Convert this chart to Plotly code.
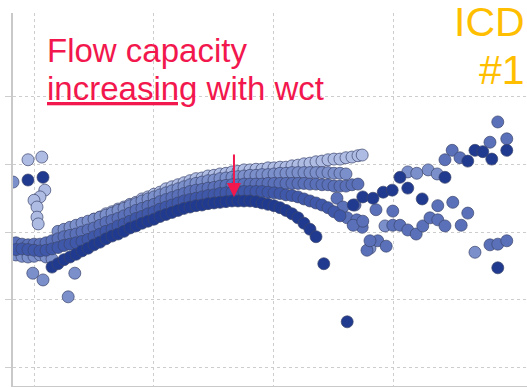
import plotly.graph_objects as go

# ---- data (x: water cut %, y: flow capacity, arbitrary units) ----
dark_x = [23, 24, 25, 26, 27, 28, 29, 30, 31, 32, 33, 34, 35, 36, 37, 38, 39, 40, 41, 42, 43, 44,
          45, 46, 47, 48, 49, 50, 51, 52, 53, 54, 55, 56, 57, 58, 59, 60, 61, 62, 63, 64, 65, 66,
          67, 68.3, 72.2,
          19, 21.5,
          73.2, 74.8, 76.5, 78.2, 79.7, 81.0, 82.3, 84.7, 88.5, 92.3, 93.5, 94.8, 96.3, 98.8, 97.3]
dark_y = [14.8, 15.3, 15.9, 16.3, 16.7, 17.2, 17.6, 18.1, 18.5, 19.0, 19.4, 19.7, 20.1, 20.6, 20.9,
          21.3, 21.6, 21.9, 22.3, 22.6, 22.9, 23.2, 23.5, 23.7, 23.9, 24.0, 24.2, 24.3, 24.4, 24.5,
          24.6, 24.6, 24.6, 24.6, 24.5, 24.3, 24.1, 23.9, 23.6, 23.2, 22.7, 22.1, 21.3, 20.4,
          19.3, 15.3, 6.7,
          27.7, 28.1,
          24.0, 25.2, 25.0, 25.9, 26.2, 28.1, 26.5, 24.9, 28.1, 30.5, 32.1, 31.9, 30.8, 32.1, 14.7]

s2_x = [17, 18, 19, 20, 21, 22, 23, 24, 25, 26, 27, 28, 29, 30, 31, 32, 33, 34, 35, 36, 37, 38,
        39, 40, 41, 42, 43, 44, 45, 46, 47, 48, 49, 50, 51, 52, 53, 54, 55, 56, 57, 58, 59, 60,
        61, 62, 63, 64, 65, 66, 67, 68, 69, 70, 71]
s2_y = [17.4, 17.5, 17.4, 17.3, 17.2, 17.3, 17.5, 17.7, 18.0, 18.2, 18.4, 18.6, 18.9, 19.3, 19.7,
        20.1, 20.4, 20.9, 21.2, 21.6, 22.0, 22.3, 22.7, 23.0, 23.4, 23.7, 24.0, 24.3, 24.6, 24.8,
        25.0, 25.2, 25.4, 25.5, 25.7, 25.8, 25.9, 26.0, 26.0, 26.0, 26.0, 26.0, 25.9, 25.8, 25.7,
        25.5, 25.4, 25.2, 24.9, 24.6, 24.3, 24.0, 23.6, 23.0, 22.4]

s3_x = [16, 17, 18, 19, 20, 21, 22, 23, 24, 25, 26, 27, 28, 29, 30, 31, 32, 33, 34, 35, 36, 37,
        38, 39, 40, 41, 42, 43, 44, 45, 46, 47, 48, 49, 50, 51, 52, 53, 54, 55, 56, 57, 58, 59,
        60, 61, 62, 63, 64, 65, 66, 67, 68, 69, 70, 71, 72, 73, 74,
        70.5, 71.5, 72.2, 73.8, 74.7, 75.5, 73.2, 74.8, 73.5, 77.0, 79.8, 77.3, 78.7, 76.0,
        79.8, 81.0, 82.3, 83.7, 84.8, 86.0, 87.3, 87.3, 88.5, 89.8, 91.2, 92.3,
        96.0, 97.3, 98.8, 89.7, 88.5, 91.0, 96.0, 97.3, 98.8]
s3_y = [18.4, 18.4, 18.2, 18.1, 18.2, 18.2, 18.4, 18.7, 19.0, 19.3, 19.5, 19.7, 20.0, 20.3, 20.6,
        21.0, 21.4, 21.7, 22.0, 22.4, 22.8, 23.2, 23.5, 23.8, 24.1, 24.5, 24.8, 25.1, 25.4, 25.7,
        26.0, 26.2, 26.3, 26.5, 26.6, 26.8, 26.9, 27.0, 27.0, 27.1, 27.1, 27.1, 27.1, 27.2,
        27.2, 27.2, 27.2, 27.2, 27.2, 27.2, 27.1, 27.1, 27.0, 27.0, 26.8, 26.8, 26.8, 27.0, 27.1,
        25.0, 23.7, 22.1, 21.8, 20.7, 17.3, 21.0, 21.6, 24.0, 23.3, 23.1, 18.7, 17.9, 18.7,
        21.0, 21.0, 20.3, 19.7, 20.9, 22.1, 23.9, 21.8, 20.9, 24.4, 21.0, 22.8,
        18.1, 18.2, 18.7, 32.1, 30.7, 31.0, 33.3, 36.3, 33.8]

s4_x = [17, 18, 19, 20, 21, 22, 23,
        24, 25, 26, 27, 28, 29, 30, 31, 32, 33, 34, 35, 36, 37, 38, 39, 40, 41, 42, 43, 44, 45,
        46, 47, 48, 49, 50, 51, 52, 53, 54, 55, 56, 57, 58, 59, 60, 61, 62, 63, 64, 65, 66, 67,
        68, 69, 70, 71, 72,
        16.5, 19.8, 21.5, 26.8, 25.7,
        82.3, 83.8, 85.7, 87.2, 93.5, 76.0, 78.5]
s4_y = [16.6, 16.4, 16.3, 16.4, 16.6, 16.3, 16.0,
        20.1, 20.4, 20.7, 21.0, 21.3, 21.6, 21.9, 22.2, 22.5, 22.8, 23.2, 23.5, 23.9, 24.2, 24.6,
        24.9, 25.2, 25.5, 25.8, 26.1, 26.4, 26.7, 27.0, 27.2, 27.4, 27.6, 27.7, 27.9, 28.0, 28.1,
        28.2, 28.3, 28.4, 28.4, 28.5, 28.5, 28.6, 28.7, 28.7, 28.8, 28.8, 28.8, 28.8, 28.8,
        28.8, 28.8, 28.7, 28.7, 28.6,
        27.4, 13.9, 12.9, 13.9, 10.4,
        28.9, 28.7, 29.2, 28.6, 17.0, 17.6, 20.9]

s5_x = [30, 31, 32, 33, 34, 35, 36, 37, 38, 39, 40, 41, 42, 43, 44, 45, 46, 47, 48, 49, 50, 51,
        52, 53, 54, 55, 56, 57, 58, 59, 60, 61, 62, 63, 64, 65, 66, 67, 68, 69, 70, 71, 72, 73,
        74, 74.7,
        19, 21.3, 21.8, 21.0, 20.0, 20.5, 20.5, 20.7]
s5_y = [21.9, 22.2, 22.7, 23.0, 23.4, 23.7, 24.1, 24.4, 24.9, 25.2, 25.6, 25.9, 26.4, 26.7, 27.0,
        27.3, 27.6, 27.9, 28.0, 28.3, 28.4, 28.6, 28.7, 28.9, 29.0, 29.2, 29.2, 29.3, 29.3, 29.5,
        29.5, 29.6, 29.6, 29.8, 29.9, 30.1, 30.2, 30.4, 30.5, 30.7, 30.8, 30.8, 31.0, 31.1,
        31.3, 31.4,
        30.7, 31.1, 26.2, 25.2, 24.7, 23.7, 22.2, 21.2]

x_grid = [20, 40, 60, 80]
y_grid = [0, 10, 20, 30, 40]

series = [
    (s5_x, s5_y, "#aebbe3"),
    (s4_x, s4_y, "#7b8fcb"),
    (s3_x, s3_y, "#5a71b9"),
    (s2_x, s2_y, "#3f58a9"),
    (dark_x, dark_y, "#1f3a8e"),
]

fig = go.Figure()
for xs, ys, col in series:
    fig.add_trace(go.Scatter(
        x=xs, y=ys, mode="markers",
        marker=dict(size=12, color=col, line=dict(width=1, color="rgba(60,70,110,0.7)")),
        showlegend=False, hoverinfo="skip"))

RED = "#f2174d"
GOLD = "#ffbf00"
FONT = "Arial, Liberation Sans, sans-serif"

fig.add_annotation(xref="paper", yref="paper", x=0.0632, y=0.899, xanchor="left", yanchor="middle",
                   text="Flow capacity", showarrow=False, font=dict(family=FONT, size=33, color=RED))
fig.add_annotation(xref="paper", yref="paper", x=0.0632, y=0.797, xanchor="left", yanchor="middle",
                   text="<u>increasing</u> with wct", showarrow=False,
                   font=dict(family=FONT, size=33, color=RED))
fig.add_annotation(xref="paper", yref="paper", x=1.0, y=0.977, xanchor="right", yanchor="middle",
                   text="ICD", showarrow=False, font=dict(family=FONT, size=41, color=GOLD))
fig.add_annotation(xref="paper", yref="paper", x=1.0, y=0.846, xanchor="right", yanchor="middle",
                   text="#1", showarrow=False, font=dict(family=FONT, size=41, color=GOLD))
fig.add_annotation(x=53.33, y=25.19, text="", showarrow=True, ax=0, ay=-44,
                   arrowhead=2, arrowsize=1.4, arrowwidth=2, arrowcolor=RED, standoff=0)

fig.update_xaxes(range=[16.5, 102.17], tickvals=x_grid, showticklabels=False,
                 showgrid=True, gridcolor="#cdcdcd", griddash="dot", gridwidth=1,
                 showline=True, linecolor="#c9c9c9", linewidth=2, zeroline=False, ticks="")
fig.update_yaxes(range=[-2.81, 52.44], tickvals=y_grid, showticklabels=False,
                 showgrid=True, gridcolor="#cdcdcd", griddash="dot", gridwidth=1,
                 showline=True, linecolor="#c9c9c9", linewidth=1.5, zeroline=False,
                 ticks="outside", ticklen=6, tickcolor="#cdcdcd", tickwidth=1)
fig.update_layout(width=527, height=387, margin=dict(l=13, r=0, t=13, b=1),
                  paper_bgcolor="white", plot_bgcolor="white")

fig.write_html("out.html", config={"displayModeBar": False},
               post_script="document.body.style.margin='0';document.body.style.overflow='hidden';")
